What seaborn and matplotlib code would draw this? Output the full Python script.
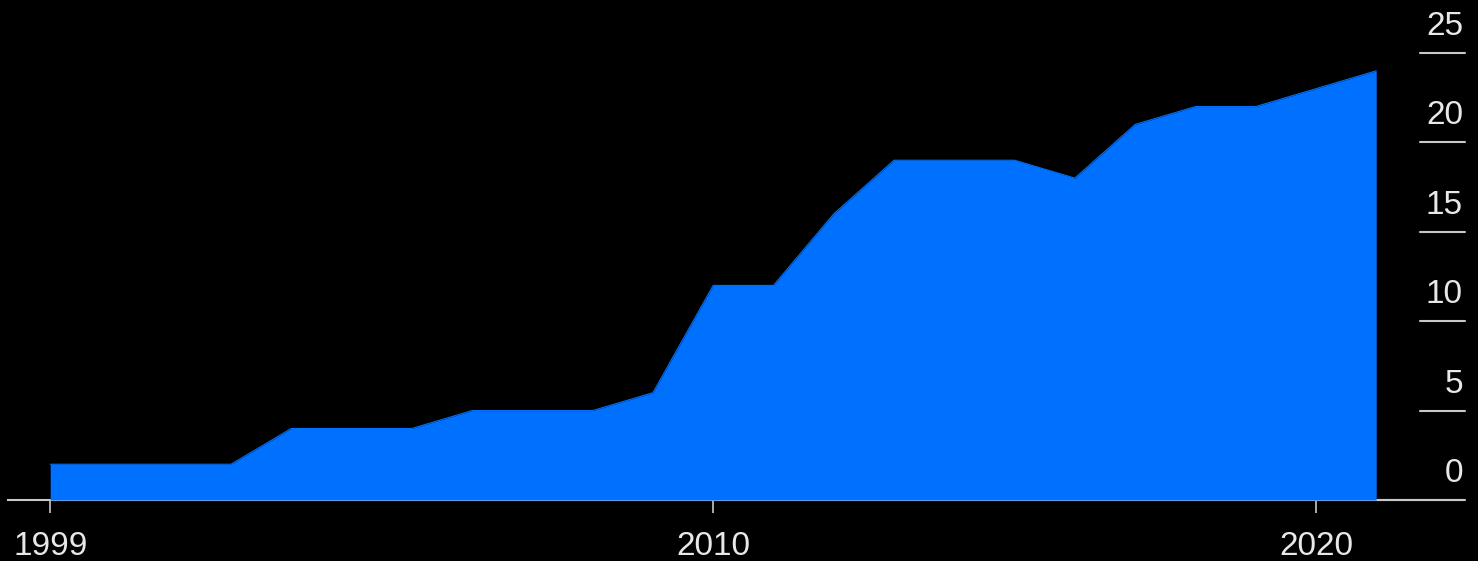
import matplotlib
matplotlib.use("Agg")
import matplotlib.pyplot as plt
import matplotlib.transforms as mtransforms
import seaborn as sns
import pandas as pd

years = [1999, 2000, 2001, 2002, 2003, 2004, 2005, 2006, 2007, 2008, 2009, 2010,
         2011, 2012, 2013, 2014, 2015, 2016, 2017, 2018, 2019, 2020, 2021]
values = [2, 2, 2, 2, 4, 4, 4, 5, 5, 5, 6, 12,
          12, 16, 19, 19, 19, 18, 21, 22, 22, 23, 24]
x_ticks = [1999, 2010, 2020]
x_tick_labels = ["1999", "2010", "2020"]
y_ticks = [0, 5, 10, 15, 20, 25]
y_tick_labels = ["0", "5", "10", "15", "20", "25"]

df = pd.DataFrame({"year": years, "value": values})

sns.set_style("dark")
plt.rcParams["font.family"] = ["Liberation Sans", "DejaVu Sans"]

BLUE = "#0070FF"
FG = "#E8E8E8"
LINE = "#C8C8C8"

W, H = 1478, 561
fig = plt.figure(figsize=(W / 100, H / 100), dpi=100, facecolor="black")
ax = fig.add_axes([8 / W, (H - 500) / H, 1455 / W, 500 / H])
ax.set_facecolor("black")

sns.lineplot(data=df, x="year", y="value", ax=ax, color=BLUE, linewidth=0.8)
ax.fill_between(df["year"], df["value"], 0, color=BLUE, linewidth=0, zorder=2)

ax.set_xlim(1998.30, 2022.44)
ax.set_ylim(0, 27.96)
ax.grid(False)
ax.set_xlabel("")
ax.set_ylabel("")

for s in ["top", "right", "left"]:
    ax.spines[s].set_visible(False)
ax.spines["bottom"].set_visible(True)
ax.spines["bottom"].set_color(LINE)
ax.spines["bottom"].set_linewidth(1.5)
ax.spines["bottom"].set_zorder(1)

ax.set_xticks(x_ticks)
ax.set_xticklabels(x_tick_labels)
ax.tick_params(axis="x", colors=LINE, length=9, width=1.2, pad=13.5,
               labelsize=24, labelcolor=FG, direction="out", bottom=True)
ax.set_yticks([])

# right-side horizontal tick segments with labels above
trans = mtransforms.blended_transform_factory(ax.transAxes, ax.transData)
x0 = (1420 - 8) / 1455
x1 = (1465 - 8) / 1455
lab_trans = mtransforms.offset_copy(trans, fig=fig, x=0, y=18, units="dots")
for yv, lab in zip(y_ticks, y_tick_labels):
    start = (1378 - 8) / 1455 if yv == 0 else x0
    ax.plot([start, x1], [yv, yv], transform=trans, color=LINE,
            linewidth=1.5, clip_on=False, zorder=3)
    ax.text((1463 - 8) / 1455, yv, lab, transform=lab_trans, ha="right",
            va="baseline", color=FG, fontsize=24)

fig.savefig("out.png", dpi=100, facecolor="black")
